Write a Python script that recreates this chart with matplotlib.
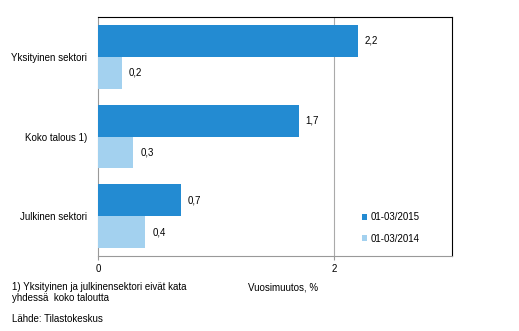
import numpy as np
import matplotlib.pyplot as plt

plt.rcParams['font.family'] = ['Liberation Sans', 'DejaVu Sans']
plt.rcParams['font.size'] = 7

categories = ['Yksityinen sektori', 'Koko talous 1)', 'Julkinen sektori']
q2015 = [2.2, 1.7, 0.7]
q2014 = [0.2, 0.3, 0.4]
labels2015 = ['2,2', '1,7', '0,7']
labels2014 = ['0,2', '0,3', '0,4']

dark = '#238bd2'
light = '#a3d1ef'

fig = plt.figure(figsize=(5.19, 3.31), dpi=100)
ax = fig.add_axes([98/519, 1-256/331, 354/519, 239/331])

y = np.arange(len(categories))
h = 0.4
b1 = ax.barh(y - h/2, q2015, height=h, color=dark, zorder=3)
b2 = ax.barh(y + h/2, q2014, height=h, color=light, zorder=3)

for bar, lab in zip(b1, labels2015):
    ax.text(bar.get_width() + 0.06, bar.get_y() + bar.get_height()/2, lab,
            va='center', ha='left')
for bar, lab in zip(b2, labels2014):
    ax.text(bar.get_width() + 0.06, bar.get_y() + bar.get_height()/2, lab,
            va='center', ha='left')

ax.set_xlim(0, 3)
ax.set_ylim(2.5, -0.5)
ax.set_xticks([0, 2])
ax.set_xticklabels(['0', '2'])
ax.set_yticks(y)
ax.set_yticklabels(categories)
ax.tick_params(axis='y', length=0, pad=8)
ax.tick_params(axis='x', length=3, color='#999999', pad=3)
ax.axvline(2, color='#aaaaaa', lw=0.8, zorder=1)

for side in ['left', 'bottom']:
    ax.spines[side].set_color('#999999')
    ax.spines[side].set_linewidth(0.8)
for side in ['top', 'right']:
    ax.spines[side].set_color('black')
    ax.spines[side].set_linewidth(0.8)

# legend entries
ax.legend([b1, b2], ['01-03/2015', '01-03/2014'], loc='upper left',
          bbox_to_anchor=(0.72, 0.22), frameon=False, handlelength=0.6,
          handleheight=0.6, handletextpad=0.3, labelspacing=1.2)

fig.text(12/519, 1-282/331, '1) Yksityinen ja julkinensektori eivät kata\nyhdessä  koko taloutta',
         va='top', ha='left', linespacing=1.15)
fig.text(248/519, 1-287/331, 'Vuosimuutos, %', va='center', ha='left')
fig.text(12/519, 1-319/331, 'Lähde: Tilastokeskus', va='center', ha='left')

fig.savefig('out.png', dpi=100)
